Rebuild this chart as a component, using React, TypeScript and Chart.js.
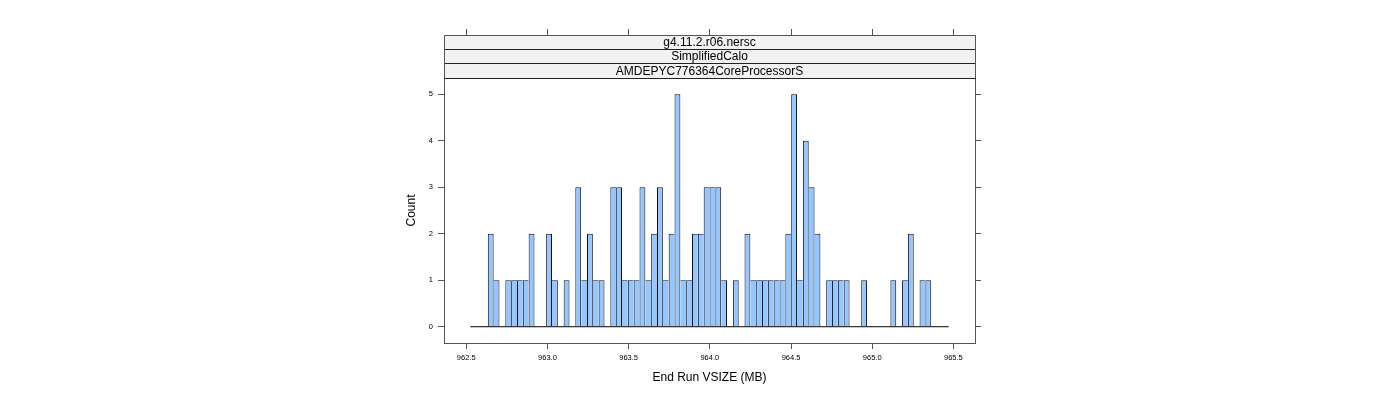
import React, { useEffect, useRef } from 'react';
import { Chart, registerables } from 'chart.js';

Chart.register(...registerables);

// ---- data ----
const binStart = 962.525;
const binWidth = 0.03593;
const binCounts = [
  0, 0, 0, 2, 1, 0, 1, 1, 1, 1,
  2, 0, 0, 2, 1, 0, 1, 0, 3, 1,
  2, 1, 1, 0, 3, 3, 1, 1, 1, 3,
  1, 2, 3, 1, 2, 5, 1, 1, 2, 2,
  3, 3, 3, 1, 0, 1, 0, 2, 1, 1,
  1, 1, 1, 1, 2, 5, 1, 4, 3, 2,
  0, 1, 1, 1, 1, 0, 0, 1, 0, 0,
  0, 0, 1, 0, 1, 2, 0, 1, 1, 0,
  0, 0,
];
const xTicks = [962.5, 963.0, 963.5, 964.0, 964.5, 965.0, 965.5];
const yTicks = [0, 1, 2, 3, 4, 5];
const xRange = [962.363, 965.633];
const yRange = [-0.35, 5.35];
const stripLabels = ['g4.11.2.r06.nersc', 'SimplifiedCalo', 'AMDEPYC776364CoreProcessorS'];
const xTitle = 'End Run VSIZE (MB)';
const yTitle = 'Count';

// ---- style ----
const FONT = "'Liberation Sans', Arial, Helvetica, sans-serif";
const AXIS_COLOR = '#555555';
const BAR_FILL = '#96C6FF';
const STRIP_FILL = '#F2F2F2';
const STRIP_TOP = 35;
const TOP_TICK = 6;

const stripPlugin = {
  id: 'latticeStrips',
  afterDraw(chart: any) {
    const { ctx, chartArea } = chart;
    const xs = chart.scales.x;
    const left = chartArea.left;
    const right = chartArea.right;
    const bottom = chartArea.top;
    const n = stripLabels.length;
    const h = (bottom - STRIP_TOP) / n;
    const align = (p: number) => Math.round(p - 0.5) + 0.5;
    ctx.save();
    // backgrounds
    ctx.fillStyle = STRIP_FILL;
    ctx.fillRect(left, STRIP_TOP, right - left, bottom - STRIP_TOP);
    // text
    ctx.fillStyle = '#000';
    ctx.font = `12px ${FONT}`;
    ctx.textAlign = 'center';
    ctx.textBaseline = 'middle';
    stripLabels.forEach((lab, i) => {
      ctx.fillText(lab, (left + right) / 2, STRIP_TOP + h * (i + 0.5) + 0.5);
    });
    // divider lines
    ctx.lineWidth = 1;
    ctx.strokeStyle = '#222';
    for (let i = 1; i <= n; i++) {
      const y = align(STRIP_TOP + h * i);
      ctx.beginPath();
      ctx.moveTo(left, y);
      ctx.lineTo(right + 1, y);
      ctx.stroke();
    }
    // outer frame of strips
    ctx.strokeStyle = AXIS_COLOR;
    ctx.beginPath();
    ctx.moveTo(align(left), bottom);
    ctx.lineTo(align(left), STRIP_TOP + 0.5);
    ctx.lineTo(align(right), STRIP_TOP + 0.5);
    ctx.lineTo(align(right), bottom);
    ctx.stroke();
    // top tick marks
    xTicks.forEach((v) => {
      const px = align(xs.getPixelForValue(v));
      ctx.beginPath();
      ctx.moveTo(px, STRIP_TOP);
      ctx.lineTo(px, STRIP_TOP - TOP_TICK);
      ctx.stroke();
    });
    ctx.restore();
  },
};

export default function App() {
  const ref = useRef<HTMLCanvasElement | null>(null);

  useEffect(() => {
    if (!ref.current) return;
    const bars = binCounts.map((c, i) => ({ x: binStart + (i + 0.5) * binWidth, y: c }));
    const baseline = [
      { x: binStart, y: 0 },
      { x: binStart + binCounts.length * binWidth, y: 0 },
    ];
    const chart = new Chart(ref.current, {
      type: 'bar',
      data: {
        datasets: [
          {
            type: 'line',
            data: baseline,
            borderColor: '#000',
            borderWidth: 1,
            pointRadius: 0,
            order: 0,
          } as any,
          {
            type: 'bar',
            data: bars,
            backgroundColor: BAR_FILL,
            borderColor: '#111',
            borderSkipped: 'start',
            inflateAmount: 0,
            borderWidth: (ctx: any) => {
              const i = ctx.dataIndex;
              const c = binCounts[i] ?? 0;
              const prev = binCounts[i - 1] ?? 0;
              const next = binCounts[i + 1] ?? 0;
              if (c <= 0) return 0;
              return { top: 1, left: c >= prev ? 1 : 0, right: c > next ? 1 : 0, bottom: 0 };
            },
            barPercentage: 1,
            categoryPercentage: 1,
            order: 1,
          } as any,
        ],
      },
      options: {
        responsive: false,
        animation: false,
        events: [],
        layout: { padding: { left: 398, right: 400, top: 78, bottom: 0 } },
        plugins: { legend: { display: false }, tooltip: { enabled: false } },
        scales: {
          x: {
            type: 'linear',
            position: 'bottom',
            min: xRange[0],
            max: xRange[1],
            offset: false,
            afterBuildTicks: (s: any) => {
              s.ticks = xTicks.map((v) => ({ value: v }));
            },
            afterFit: (s: any) => {
              s.height = 57;
            },
            ticks: {
              callback: (v: any) => Number(v).toFixed(1),
              font: { family: FONT, size: 7.5 },
              color: '#000',
              padding: 4,
              maxRotation: 0,
              autoSkip: false,
            },
            grid: {
              display: true,
              drawOnChartArea: false,
              drawTicks: true,
              tickLength: 6,
              color: AXIS_COLOR,
              offset: false,
            },
            border: { display: true, color: AXIS_COLOR, width: 1 },
            title: {
              display: true,
              text: xTitle,
              font: { family: FONT, size: 12 },
              color: '#000',
              padding: { top: 0, bottom: 15 },
            },
          },
          y: {
            type: 'linear',
            position: 'left',
            min: yRange[0],
            max: yRange[1],
            afterBuildTicks: (s: any) => {
              s.ticks = yTicks.map((v) => ({ value: v }));
            },
            afterFit: (s: any) => {
              s.width = 46;
            },
            ticks: {
              callback: (v: any) => String(v),
              font: { family: FONT, size: 7.5 },
              color: '#000',
              padding: 5,
            },
            grid: {
              display: true,
              drawOnChartArea: false,
              drawTicks: true,
              tickLength: 6,
              color: AXIS_COLOR,
            },
            border: { display: true, color: AXIS_COLOR, width: 1 },
            title: {
              display: true,
              text: yTitle,
              font: { family: FONT, size: 12 },
              color: '#000',
              padding: { top: 6.5, bottom: 0 },
            },
          },
          y2: {
            type: 'linear',
            position: 'right',
            min: yRange[0],
            max: yRange[1],
            afterBuildTicks: (s: any) => {
              s.ticks = yTicks.map((v) => ({ value: v }));
            },
            afterFit: (s: any) => {
              s.width = 25;
            },
            ticks: { display: false },
            grid: {
              display: true,
              drawOnChartArea: false,
              drawTicks: true,
              tickLength: 6,
              color: AXIS_COLOR,
            },
            border: { display: true, color: AXIS_COLOR, width: 1 },
          },
        },
      } as any,
      plugins: [stripPlugin],
    });
    return () => chart.destroy();
  }, []);

  return (
    <div style={{ position: 'fixed', left: 0, top: 0, width: 1400, height: 400, background: '#fff' }}>
      <canvas ref={ref} width={1400} height={400} style={{ width: 1400, height: 400, display: 'block' }} />
    </div>
  );
}
